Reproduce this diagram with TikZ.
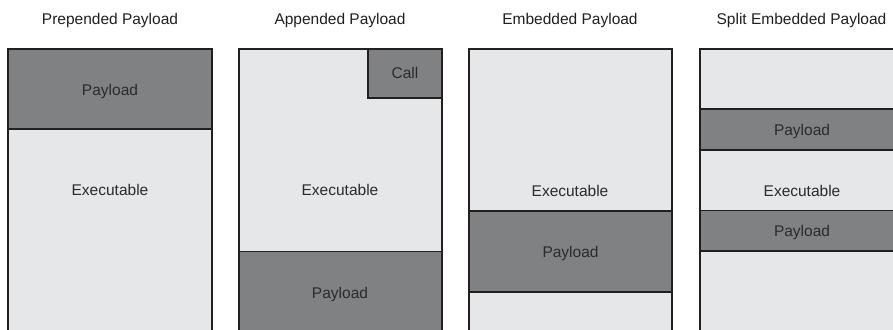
\documentclass[tikz,border=0pt]{standalone}
\usepackage{fontspec}
\setmainfont{Liberation Sans}
\definecolor{lightfill}{HTML}{E6E7E8}
\definecolor{darkfill}{HTML}{808183}
\definecolor{edge}{HTML}{231F20}
\definecolor{txt}{HTML}{2B2B2B}
\begin{document}
\begin{tikzpicture}[x=1pt,y=-1pt,
  exebox/.style={draw=edge, line width=1.3pt, fill=lightfill, anchor=north west, inner sep=0pt, outer sep=0pt},
  paybox/.style={draw=edge, line width=1.3pt, fill=darkfill, anchor=north west, inner sep=0pt, outer sep=0pt},
  lbl/.style={text=txt, font=\fontsize{15.5}{18}\selectfont, inner sep=0pt, anchor=center, text height=11pt, text depth=0pt, yshift=-0.5pt},
  ttl/.style={text=edge, font=\fontsize{15.5}{18}\selectfont, inner sep=0pt, anchor=center, text height=11pt, text depth=0pt}]
\useasboundingbox (0,0) rectangle (893,329);
\clip (0,0) rectangle (893,329);
% titles
\node[ttl] (t1) at (110,19) {Prepended Payload};
\node[ttl] (t2) at (340,19) {Appended Payload};
\node[ttl] (t3) at (570,19) {Embedded Payload};
\node[ttl] (t4) at (801.5,19) {Split Embedded Payload};
% box 1: prepended
\node[exebox, minimum width=204pt, minimum height=300pt] (e1) at (8,49) {};
\node[paybox, minimum width=204pt, minimum height=80pt] (p1) at (8,49) {};
\node[lbl] (p1l) at (p1.center) {Payload};
\node[lbl] (e1l) at (110,189) {Executable};
% box 2: appended
\node[exebox, minimum width=203pt, minimum height=300pt] (e2) at (239,49) {};
\node[paybox, minimum width=74pt, minimum height=49pt] (c2) at (368,49) {};
\node[lbl] (c2l) at (405,72) {Call};
\node[paybox, minimum width=203pt, minimum height=100pt] (p2) at (239,251.5) {};
\node[lbl] (p2l) at (340,292) {Payload};
\node[lbl] (e2l) at (340,189) {Executable};
% box 3: embedded
\node[exebox, minimum width=203pt, minimum height=300pt] (e3) at (469,49) {};
\node[paybox, minimum width=203pt, minimum height=81pt] (p3) at (469,211) {};
\node[lbl] (p3l) at (p3.center) {Payload};
\node[lbl] (e3l) at (570,190) {Executable};
% box 4: split embedded
\node[exebox, minimum width=204pt, minimum height=300pt] (e4) at (700,49) {};
\node[paybox, minimum width=204pt, minimum height=41pt] (p4a) at (700,109) {};
\node[lbl] (p4al) at (p4a.center) {Payload};
\node[paybox, minimum width=204pt, minimum height=40.5pt] (p4b) at (700,210.5) {};
\node[lbl] (p4bl) at (p4b.center) {Payload};
\node[lbl] (e4l) at (802,190) {Executable};
\end{tikzpicture}
\end{document}
